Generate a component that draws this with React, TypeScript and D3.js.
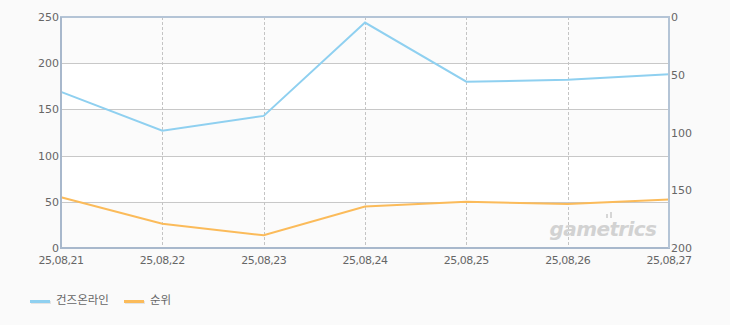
import React from "react";
import * as d3 from "d3";

const categories = ["25,08,21", "25,08,22", "25,08,23", "25,08,24", "25,08,25", "25,08,26", "25,08,27"];
const seriesUsers = [169, 127, 143, 244, 180, 182, 188];
const seriesRank = [156, 179, 189, 164, 160, 162, 158];
const leftTicks = [0, 50, 100, 150, 200, 250];
const rightTicks = [0, 50, 100, 150, 200];
const legendNames = ["건즈온라인", "순위"];
const colors = ["#8fd0f0", "#fbbb5a"];

const W = 730, H = 325;
const M = { left: 61, right: 669, top: 17, bottom: 248 };

export default function App() {
  const x = d3.scalePoint<string>().domain(categories).range([M.left, M.right]);
  const yL = d3.scaleLinear().domain([0, 250]).range([M.bottom, M.top]);
  const yR = d3.scaleLinear().domain([0, 200]).range([M.top, M.bottom]);
  const lineL = d3.line<number>().x((_, i) => x(categories[i])!).y(d => yL(d));
  const lineR = d3.line<number>().x((_, i) => x(categories[i])!).y(d => yR(d));
  const font = "'DejaVu Sans', sans-serif";
  const bands = leftTicks.slice(0, -1);
  return (
    <div style={{ position: "absolute", left: 0, top: 0 }}>
      <svg width={W} height={H} style={{ display: "block" }}>
        <rect x={0} y={0} width={W} height={H} fill="#fafafa" />
        {bands.map((b, i) => (
          <rect key={b} x={M.left} y={yL(b + 50)} width={M.right - M.left} height={yL(b) - yL(b + 50)}
            fill={i % 2 === 0 ? "#fbfbfb" : "#ffffff"} />
        ))}
        {leftTicks.slice(1, -1).map(t => (
          <line key={t} x1={M.left} x2={M.right} y1={Math.round(yL(t)) + 0.5} y2={Math.round(yL(t)) + 0.5} stroke="#c8c8c8" />
        ))}
        {categories.slice(1, -1).map(c => (
          <line key={c} x1={Math.round(x(c)!) + 0.5} x2={Math.round(x(c)!) + 0.5} y1={M.top} y2={M.bottom}
            stroke="#c4c4c4" strokeDasharray="3,2" />
        ))}
        <text x={603} y={236} textAnchor="middle" fontFamily={font} fontSize={20} fontWeight="bold" fontStyle="italic"
          fill="#d2d2d2" letterSpacing={-0.6}>gametrics</text>
        <rect x={606} y={214} width={2} height={4} fill="#d6d6d6" />
        <rect x={610} y={212} width={2} height={6} fill="#d6d6d6" />
        <path d={lineL(seriesUsers)!} fill="none" stroke={colors[0]} strokeWidth={2} />
        <path d={lineR(seriesRank)!} fill="none" stroke={colors[1]} strokeWidth={2} />
        {/* frame */}
        <line x1={M.left - 1} x2={M.right + 1} y1={M.top} y2={M.top} stroke="#b4c4d6" strokeWidth={2} />
        <line x1={M.left - 1} x2={M.right + 1} y1={M.bottom} y2={M.bottom} stroke="#a8b8cc" strokeWidth={2} />
        <line x1={M.left} x2={M.left} y1={M.top} y2={M.bottom} stroke="#a8b8cc" strokeWidth={2} />
        <line x1={M.right} x2={M.right} y1={M.top} y2={M.bottom} stroke="#b4c4d6" strokeWidth={2} />
        {leftTicks.map(t => (
          <text key={t} x={M.left - 2} y={yL(t) + 4} textAnchor="end" fontFamily={font} fontSize={11} fill="#666">{t}</text>
        ))}
        {rightTicks.map(t => (
          <text key={t} x={M.right + 2} y={yR(t) + 4} textAnchor="start" fontFamily={font} fontSize={11} fill="#666">{t}</text>
        ))}
        {categories.map(c => (
          <text key={c} x={x(c)!} y={264} textAnchor="middle" fontFamily={font} fontSize={11} fill="#666" letterSpacing={-0.5}>{c}</text>
        ))}
        {legendNames.map((n, i) => {
          const lx = i === 0 ? 30 : 124;
          return (
            <g key={n}>
              <rect x={lx + 1} y={301} width={20} height={3} fill="#e4e4e4" />
              <rect x={lx} y={300} width={20} height={3} fill={colors[i]} />
              <text x={lx + 26} y={304} fontFamily="'Noto Sans CJK KR', sans-serif" fontSize={11.5} fill="#666">{n}</text>
            </g>
          );
        })}
      </svg>
    </div>
  );
}
